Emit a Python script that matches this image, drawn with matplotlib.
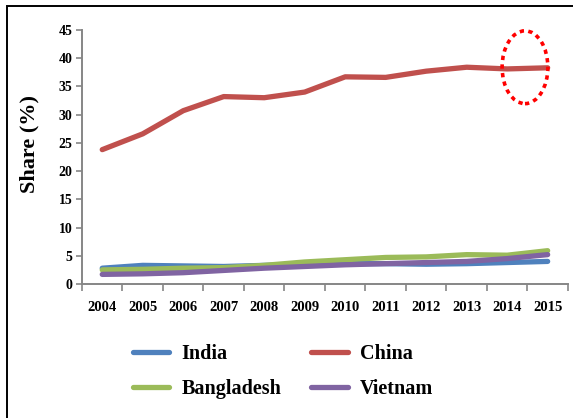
"""Share of garment exports by country, 2004-2015."""

import matplotlib

matplotlib.use("Agg")

import matplotlib.pyplot as plt
import numpy as np
from matplotlib.patches import Ellipse, Rectangle

years = ["2004", "2005", "2006", "2007", "2008", "2009",
         "2010", "2011", "2012", "2013", "2014", "2015"]
india = [2.8, 3.3, 3.2, 3.1, 3.3, 3.5, 3.6, 3.6, 3.5, 3.6, 3.8, 4.0]
china = [23.8, 26.6, 30.7, 33.2, 33.0, 34.0, 36.7, 36.6, 37.7, 38.4, 38.1, 38.3]
bangladesh = [2.5, 2.6, 2.8, 2.9, 3.3, 3.9, 4.3, 4.7, 4.8, 5.2, 5.1, 5.9]
vietnam = [1.7, 1.8, 2.0, 2.4, 2.8, 3.1, 3.4, 3.6, 3.8, 4.0, 4.5, 5.2]

series = [
    ("India", india, "#4F81BD"),
    ("Bangladesh", bangladesh, "#9BBB59"),
    ("China", china, "#C0504D"),
    ("Vietnam", vietnam, "#8064A2"),
]

plt.rcParams["font.family"] = ["Liberation Serif", "DejaVu Serif"]
plt.rcParams["font.weight"] = "bold"

fig = plt.figure(figsize=(5.73, 4.18), dpi=100)
ax = fig.add_axes([0.1431, 0.3206, 0.848, 0.6077])

x = np.arange(len(years))
draw_order = ["India", "Bangladesh", "Vietnam", "China"]
lines = {}
for name, values, color in series:
    (line,) = ax.plot(x, values, color=color, linewidth=3.8,
                      solid_capstyle="round", solid_joinstyle="round",
                      label=name, zorder=3 + draw_order.index(name))
    lines[name] = line

# highlight ring around the last two years of China
ax.add_patch(Ellipse((10.44, 38.4), 1.13, 12.9, fill=False, edgecolor="#FF0000",
                     linewidth=2.6, linestyle=(0, (1.2, 1.2)), zorder=10,
                     clip_on=False))

ax.set_xlim(-0.5, len(years) - 0.5)
ax.set_ylim(0, 45)
ax.set_yticks(np.arange(0, 50, 5))
ax.set_xticks(np.arange(-0.5, len(years), 1.0))
ax.set_xticklabels([])
ax.set_xticks(x, minor=True)
ax.set_xticklabels(years, minor=True, fontsize=10.5, fontweight="bold")
ax.tick_params(axis="x", which="major", length=5, width=1.2, color="#868686",
               direction="out")
ax.tick_params(axis="x", which="minor", length=0, pad=12)
ax.tick_params(axis="y", length=4, width=1.2, color="#868686", labelsize=10,
               pad=3)
for label in ax.get_yticklabels():
    label.set_fontweight("bold")

for side in ("top", "right"):
    ax.spines[side].set_visible(False)
for side in ("left", "bottom"):
    ax.spines[side].set_color("#868686")
    ax.spines[side].set_linewidth(1.4)

ax.set_ylabel("Share (%)", fontsize=16, fontweight="bold")
ax.yaxis.set_label_coords(-0.088, 0.55)

handles = [lines[name] for name, _, _ in series]
fig.legend(handles, [h.get_label() for h in handles], ncol=2,
           loc="upper left", bbox_to_anchor=(0.232, 0.178), frameon=False,
           prop={"size": 14.5, "weight": "bold"}, handlelength=1.8,
           handletextpad=0.6, columnspacing=1.5, labelspacing=0.75,
           borderpad=0, borderaxespad=0)

# outer frame (right and bottom edges fall off the picture)
fig.add_artist(Rectangle((7 / 573, -0.05), 1.05, (418 - 6) / 418 + 0.05,
                         transform=fig.transFigure, fill=False,
                         edgecolor="black", linewidth=1.4))

fig.savefig("out.png", dpi=100)
plt.close(fig)
